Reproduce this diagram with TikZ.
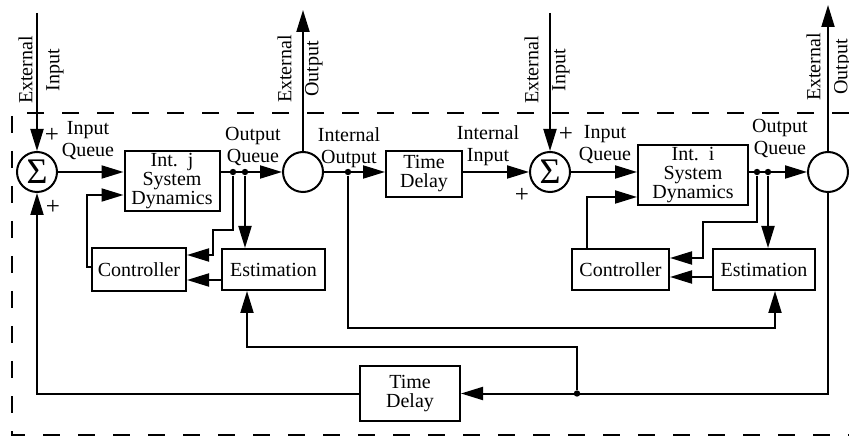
\documentclass[tikz,border=0pt]{standalone}
\usepackage{fontspec}
\setmainfont{Liberation Serif}
\usetikzlibrary{arrows.meta,calc,positioning}
\tikzset{
    blk/.style={
        rectangle,
        draw,
        line width=1pt,
        fill=white,
        align=center,
        inner sep=1pt,
        font=\fontsize{10}{9.5}\selectfont
    },
    sumnode/.style={draw, circle, line width=1pt, fill=white, minimum size=20pt, inner sep=0pt, font=\fontsize{18}{18}\selectfont},
    outnode/.style={draw, circle, line width=1pt, fill=white, minimum size=20pt, inner sep=0pt},
    junc/.style={circle, fill, inner sep=0pt, minimum size=3.2pt},
    % Arrows
    sig/.style={-{Triangle[length=11pt,width=6.5pt]}, line width=1pt},
    lbl/.style={align=center, inner sep=0pt, font=\fontsize{10}{11}\selectfont},
    plus/.style={inner sep=0pt, font=\fontsize{12.5}{12.5}\selectfont},
    extlbl/.style={align=center, inner sep=0pt, rotate=90, font=\fontsize{10}{13.5}\selectfont}
}
\begin{document}
\begin{tikzpicture}[x=0.5pt,y=-0.5pt]
\useasboundingbox (0,0) rectangle (849,437);
% subsystem boundary
\draw[line width=1pt, dash pattern=on 8.5pt off 9pt] (849,113) -- (12,113) -- (12,435) -- (849,435);

% interconnection j
\node[sumnode] (sumj) at (37,172) {Σ};
\node[blk, minimum width=47.5pt, minimum height=30pt] (intj) at (172,181) {Int.\ \ j\\System\\Dynamics};
\node[outnode] (outj) at (303,172) {};
\node[blk, minimum width=47pt, minimum height=21.5pt] (ctrlj) at (139,270) {Controller};
\node[blk, minimum width=51.5pt, minimum height=20.5pt] (estj) at (273.5,269.5) {Estimation};
\node[blk, minimum width=38pt, minimum height=23pt] (tdj) at (424,174) {Time\\Delay};

% interconnection i
\node[sumnode] (sumi) at (550,172) {Σ};
\node[blk, minimum width=55pt, minimum height=28pt] (inti) at (693,175) {Int.\ \ i\\System\\Dynamics};
\node[outnode] (outi) at (828,172) {};
\node[blk, minimum width=48.5pt, minimum height=20.5pt] (ctrli) at (620.5,269.5) {Controller};
\node[blk, minimum width=51pt, minimum height=20.5pt] (esti) at (764,269.5) {Estimation};
\node[blk, minimum width=50pt, minimum height=27.5pt] (tdback) at (410,393.5) {Time\\Delay};

% external ends
\coordinate (extinj) at (37,13);
\coordinate (extoutj) at (303,10);
\coordinate (extini) at (550,13);
\coordinate (extouti) at (828,5);

% junctions
\node[junc] (ja) at (233,172) {};
\node[junc] (jb) at (245,172) {};
\node[junc] (dn) at (348,172) {};
\node[junc] (ia) at (757,172) {};
\node[junc] (ib) at (768,172) {};
\node[junc] (dk) at (577,393.5) {};

% labels
\node[extlbl] (lblinj) at (41,70) {External\\Input};
\node[extlbl] (lbloutj) at (300,69) {External\\Output};
\node[extlbl] (lblini) at (547,70) {External\\Input};
\node[extlbl] (lblouti) at (829,67) {External\\Output};
\node[plus] (pj1) at (52,135) {+};
\node[plus] (pj2) at (53,207) {+};
\node[plus] (pi1) at (566,134) {+};
\node[plus] (pi2) at (522,195) {+};
\node[lbl] (iqj) at (88,141) {Input\\Queue};
\node[lbl] (oqj) at (253,147) {Output\\Queue};
\node[lbl] (io) at (349,148) {Internal\\Output};
\node[lbl] (ii) at (488,146) {Internal\\Input};
\node[lbl] (iqi) at (605,145) {Input\\Queue};
\node[lbl] (oqi) at (780,139) {Output\\Queue};

% signal flow j
\draw[sig] (extinj) -- (sumj.north);
\draw[sig] (sumj.east) -- (intj.west |- sumj.east);
\draw[sig] (intj.east |- outj.west) -- (outj.west);
\draw[sig] (outj.north) -- (extoutj);
\draw[sig] (ja) -- (233,230) -- (213,230) -- (213,255) -- (ctrlj.east |- 0,255);
\draw[sig] (jb) -- (estj.north -| 245,0);
\draw[sig] (estj.west |- 0,280) -- (ctrlj.east |- 0,280);
\draw[sig] (ctrlj.west |- 0,267) -- (87,267) -- (87,195) -- (intj.west |- 0,195);
\draw[sig] (outj.east) -- (tdj.west |- outj.east);
\draw[sig] (dn) -- (348,328) -- (775,328) -- (esti.south -| 775,0);

% signal flow i
\draw[sig] (tdj.east |- sumi.west) -- (sumi.west);
\draw[sig] (extini) -- (sumi.north);
\draw[sig] (sumi.east) -- (inti.west |- sumi.east);
\draw[sig] (inti.east |- outi.west) -- (outi.west);
\draw[sig] (outi.north) -- (extouti);
\draw[sig] (ia) -- (757,222) -- (703,222) -- (703,258) -- (ctrli.east |- 0,258);
\draw[sig] (ib) -- (esti.north -| 768,0);
\draw[sig] (esti.west |- 0,277) -- (ctrli.east |- 0,277);
\draw[sig] (ctrli.north -| 587,0) -- (587,197) -- (inti.west |- 0,197);

% return path
\draw[sig] (outi.south) |- (tdback.east);
\draw[sig] (dk) -- (577,347) -- (247,347) -- (estj.south -| 247,0);
\draw[sig] (tdback.west) -| (sumj.south);
\end{tikzpicture}
\end{document}
